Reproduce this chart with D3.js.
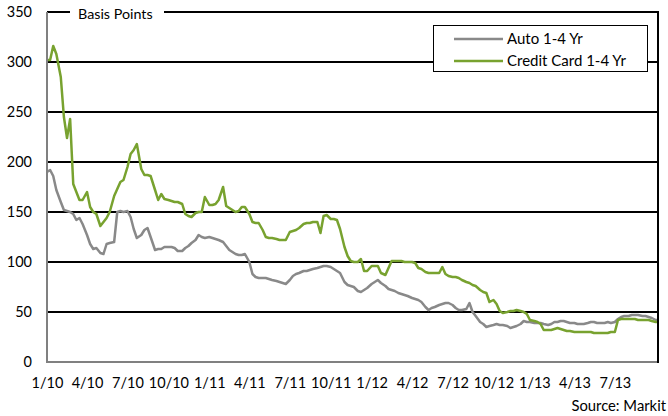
<!doctype html>
<html>
<head>
	<meta charset="utf-8">
	<title>Auto vs Credit Card ABS spreads</title>
	<style>
	  body { margin: 0; background: #fff; }
	  text { font-family: Lato, "Open Sans", sans-serif; fill: #000; }
	</style>
</head>
<body>

<svg width="668" height="416"></svg>
<script src="https://cdn.jsdelivr.net/npm/d3@7"></script>
<script>
// weekly observation dates (1st, 8th, 15th, 22nd of each month)
var dates = [
  "2010-01-01","2010-01-08","2010-01-15","2010-01-22",
  "2010-02-01","2010-02-08","2010-02-15","2010-02-22",
  "2010-03-01","2010-03-08","2010-03-15","2010-03-22",
  "2010-04-01","2010-04-08","2010-04-15","2010-04-22",
  "2010-05-01","2010-05-08","2010-05-15","2010-05-22",
  "2010-06-01","2010-06-08","2010-06-15","2010-06-22",
  "2010-07-01","2010-07-08","2010-07-15","2010-07-22",
  "2010-08-01","2010-08-08","2010-08-15","2010-08-22",
  "2010-09-01","2010-09-08","2010-09-15","2010-09-22",
  "2010-10-01","2010-10-08","2010-10-15","2010-10-22",
  "2010-11-01","2010-11-08","2010-11-15","2010-11-22",
  "2010-12-01","2010-12-08","2010-12-15","2010-12-22",
  "2011-01-01","2011-01-08","2011-01-15","2011-01-22",
  "2011-02-01","2011-02-08","2011-02-15","2011-02-22",
  "2011-03-01","2011-03-08","2011-03-15","2011-03-22",
  "2011-04-01","2011-04-08","2011-04-15","2011-04-22",
  "2011-05-01","2011-05-08","2011-05-15","2011-05-22",
  "2011-06-01","2011-06-08","2011-06-15","2011-06-22",
  "2011-07-01","2011-07-08","2011-07-15","2011-07-22",
  "2011-08-01","2011-08-08","2011-08-15","2011-08-22",
  "2011-09-01","2011-09-08","2011-09-15","2011-09-22",
  "2011-10-01","2011-10-08","2011-10-15","2011-10-22",
  "2011-11-01","2011-11-08","2011-11-15","2011-11-22",
  "2011-12-01","2011-12-08","2011-12-15","2011-12-22",
  "2012-01-01","2012-01-08","2012-01-15","2012-01-22",
  "2012-02-01","2012-02-08","2012-02-15","2012-02-22",
  "2012-03-01","2012-03-08","2012-03-15","2012-03-22",
  "2012-04-01","2012-04-08","2012-04-15","2012-04-22",
  "2012-05-01","2012-05-08","2012-05-15","2012-05-22",
  "2012-06-01","2012-06-08","2012-06-15","2012-06-22",
  "2012-07-01","2012-07-08","2012-07-15","2012-07-22",
  "2012-08-01","2012-08-08","2012-08-15","2012-08-22",
  "2012-09-01","2012-09-08","2012-09-15","2012-09-22",
  "2012-10-01","2012-10-08","2012-10-15","2012-10-22",
  "2012-11-01","2012-11-08","2012-11-15","2012-11-22",
  "2012-12-01","2012-12-08","2012-12-15","2012-12-22",
  "2013-01-01","2013-01-08","2013-01-15","2013-01-22",
  "2013-02-01","2013-02-08","2013-02-15","2013-02-22",
  "2013-03-01","2013-03-08","2013-03-15","2013-03-22",
  "2013-04-01","2013-04-08","2013-04-15","2013-04-22",
  "2013-05-01","2013-05-08","2013-05-15","2013-05-22",
  "2013-06-01","2013-06-08","2013-06-15","2013-06-22",
  "2013-07-01","2013-07-08","2013-07-15","2013-07-22",
  "2013-08-01","2013-08-08","2013-08-15","2013-08-22",
  "2013-09-01","2013-09-08","2013-09-15","2013-09-22",
  "2013-10-01","2013-10-06"
];

// Auto 1-4 Yr, basis points
var auto = [
  190,192,186,172, 160,152,151,150, 148,142,144,138, 127,118,113,114,
  109,108,118,119, 120,150,151,150, 151,145,133,124, 127,132,134,125,
  112,113,113,115, 115,115,114,111, 111,114,116,119, 122,127,125,124,
  125,124,123,122, 120,116,112,110, 108,107,107,108, 100,88,85,84,
  84,84,83,82, 81,80,79,78, 82,86,88,89, 91,91,92,93,
  94,95,96,96, 95,93,91,89, 80,77,76,75, 71,70,72,74,
  78,80,82,79, 76,73,72,71, 69,68,67,66, 64,63,62,60,
  55,52,54,55, 57,58,59,59, 57,54,52,52, 53,59,50,46,
  40,38,35,36, 37,38,37,37, 36,34,35,36, 38,41,40,40,
  39,39,39,38, 37,38,40,40, 41,41,40,39, 39,38,38,38,
  39,40,40,39, 39,39,40,39, 40,43,45,46, 46,47,47,47,
  46,46,45,44, 42,42
];

// Credit Card 1-4 Yr, basis points
var card = [
  302,302,316,308, 285,245,224,243, 178,170,162,162, 170,155,150,148,
  136,140,144,150, 166,173,180,182, 195,208,212,218, 193,187,187,186,
  172,162,168,163, 162,161,160,160, 158,148,146,145, 149,150,150,165,
  157,157,158,162, 175,156,154,152, 150,151,155,155, 148,140,139,139,
  132,125,124,124, 123,122,122,122, 130,131,132,134, 138,139,139,140,
  140,129,146,147, 143,143,142,133, 115,106,101,100, 100,103,91,91,
  96,96,96,89, 87,94,101,101, 101,101,100,100, 100,99,94,93,
  90,89,89,89, 89,95,88,86, 85,85,84,82, 80,79,77,76,
  72,70,69,60, 62,58,51,49, 50,51,51,52, 51,50,48,42,
  41,40,38,32, 32,32,33,34, 33,32,31,31, 30,30,30,30,
  30,30,29,29, 29,29,29,30, 30,42,43,43, 43,43,43,42,
  42,42,42,41, 40,40
];

var seriesNames = ["Auto 1-4 Yr", "Credit Card 1-4 Yr"];
var seriesColors = ["#898989", "#78a22f"];
var xTickLabels = ["1/10","4/10","7/10","10/10","1/11","4/11","7/11","10/11",
                   "1/12","4/12","7/12","10/12","1/13","4/13","7/13"];
var yTicks = [0, 50, 100, 150, 200, 250, 300, 350];

var svg = d3.select("svg");
var plotLeft = 47, plotRight = 658, plotTop = 12, plotBottom = 362;

var parseDate = d3.timeParse("%Y-%m-%d");
var parseTick = d3.timeParse("%m/%y");
var dateObjs = dates.map(parseDate);

var x = d3.scaleTime()
    .domain([parseDate("2010-01-01"), parseDate("2013-10-06")])
    .range([plotLeft, plotRight]);

var y = d3.scaleLinear()
    .domain([0, 350])
    .range([plotBottom, plotTop]);

// gridlines
svg.append("g")
  .selectAll("line")
  .data(yTicks.filter(function(d){ return d > 0; }))
  .enter().append("line")
    .attr("x1", plotLeft).attr("x2", plotRight)
    .attr("y1", function(d){ return y(d); })
    .attr("y2", function(d){ return y(d); })
    .attr("stroke", "#000")
    .attr("stroke-width", 2);

// y labels
svg.append("g")
  .selectAll("text")
  .data(yTicks)
  .enter().append("text")
    .attr("x", 32)
    .attr("y", function(d){ return y(d); })
    .attr("dy", "0.36em")
    .attr("text-anchor", "end")
    .attr("font-size", 14.5)
    .text(function(d){ return d; });

// x labels (category style, no tick marks)
var xAxis = d3.axisBottom(x)
    .tickValues(xTickLabels.map(function(t){ return parseTick(t); }))
    .tickFormat(function(d, i){ return xTickLabels[i]; })
    .tickSize(0)
    .tickPadding(0);

var gx = svg.append("g")
    .attr("transform", "translate(0," + plotBottom + ")")
    .call(xAxis);
gx.select(".domain").remove();
gx.selectAll("text")
    .attr("y", 26)
    .attr("dy", 0)
    .attr("font-size", 14.5)
    .attr("font-family", "Lato, 'Open Sans', sans-serif")
    .attr("fill", "#000");

// series
var line = d3.line()
    .x(function(d, i){ return x(dateObjs[i]); })
    .y(function(d){ return y(d); });

[auto, card].forEach(function(vals, k){
  svg.append("path")
      .datum(vals)
      .attr("d", line)
      .attr("fill", "none")
      .attr("stroke", seriesColors[k])
      .attr("stroke-width", 2.5)
      .attr("stroke-linejoin", "round");
});

// axes frame
svg.append("line")
    .attr("x1", plotLeft).attr("x2", plotLeft)
    .attr("y1", plotTop).attr("y2", plotBottom + 1)
    .attr("stroke", "#808080").attr("stroke-width", 2);
svg.append("line")
    .attr("x1", plotLeft).attr("x2", plotRight)
    .attr("y1", plotBottom).attr("y2", plotBottom)
    .attr("stroke", "#808080").attr("stroke-width", 2);
svg.append("line")
    .attr("x1", plotRight).attr("x2", plotRight)
    .attr("y1", plotTop - 1).attr("y2", plotBottom + 1)
    .attr("stroke", "#000").attr("stroke-width", 2);

// unit label over the top gridline
svg.append("rect")
    .attr("x", 70).attr("y", 4)
    .attr("width", 94).attr("height", 16)
    .attr("fill", "#fff");
svg.append("text")
    .attr("x", 78).attr("y", 19)
    .attr("font-size", 14.3)
    .text("Basis Points");

// legend
var legend = svg.append("g").attr("transform", "translate(433.5,25.5)");
legend.append("rect")
    .attr("width", 214).attr("height", 46)
    .attr("fill", "#fff")
    .attr("stroke", "#000")
    .attr("stroke-width", 1);
seriesNames.forEach(function(name, k){
  var ly = 13.5 + k * 22;
  legend.append("line")
      .attr("x1", 20.5).attr("x2", 69.5)
      .attr("y1", ly).attr("y2", ly)
      .attr("stroke", seriesColors[k])
      .attr("stroke-width", 2.5);
  legend.append("text")
      .attr("x", 73.5).attr("y", ly)
      .attr("dy", "0.36em")
      .attr("font-size", 15)
      .text(name);
});

// source
svg.append("text")
    .attr("x", 666).attr("y", 411)
    .attr("text-anchor", "end")
    .attr("font-size", 14.8)
    .text("Source: Markit");
</script>
</body>
</html>
